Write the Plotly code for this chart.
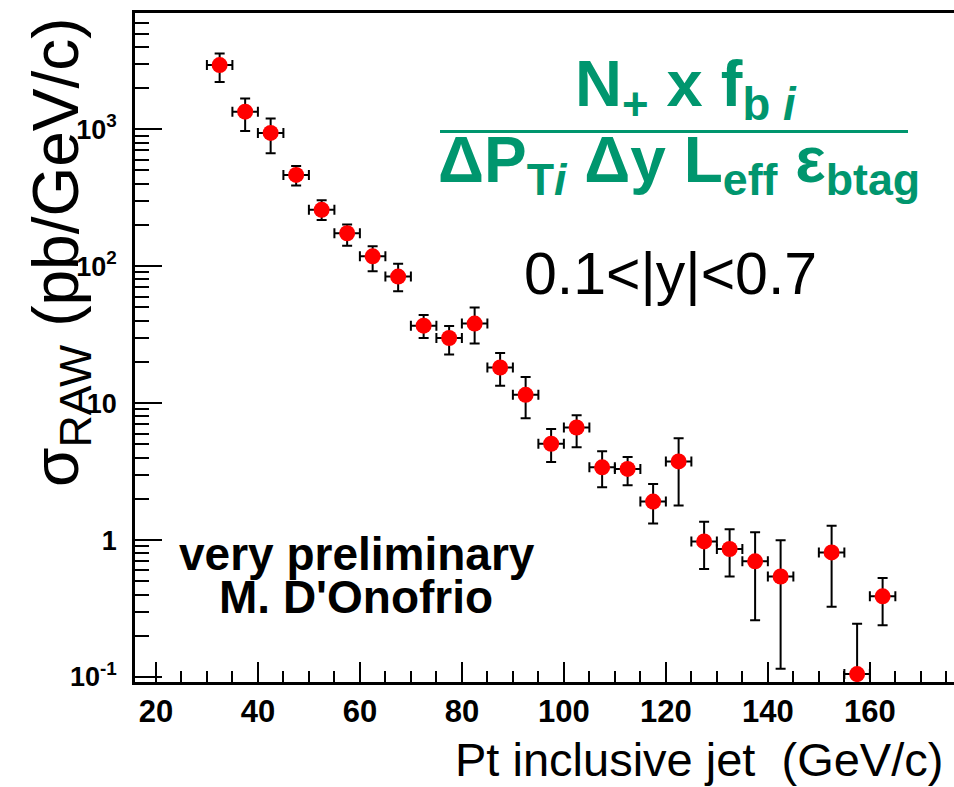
import plotly.graph_objects as go

# ---- data ----
pt = [32.5, 37.5, 42.5, 47.5, 52.5, 57.5, 62.5, 67.5, 72.5, 77.5, 82.5, 87.5, 92.5,
      97.5, 102.5, 107.5, 112.5, 117.5, 122.5, 127.5, 132.5, 137.5, 142.5, 152.5, 157.5, 162.5]
sigma = [2940, 1345, 940, 464, 258, 174, 118, 84, 36.8, 29.9, 38.1, 18.2, 11.5,
         5.05, 6.64, 3.40, 3.31, 1.91, 3.75, 0.978, 0.861, 0.699, 0.542, 0.813, 0.105, 0.388]
sigma_hi = [3575, 1675, 1196, 540, 303, 202, 140, 104, 44, 36.6, 49.9, 23.2, 15.5,
            6.46, 8.17, 4.46, 4.05, 2.57, 5.55, 1.36, 1.20, 1.14, 0.995, 1.27, 0.245, 0.528]
sigma_lo = [2218, 972, 667, 389, 217, 141, 92, 65.6, 29.9, 22.7, 27.2, 13.4, 7.76,
            3.72, 4.77, 2.43, 2.51, 1.32, 1.79, 0.615, 0.542, 0.260, 0.115, 0.326, 0.001, 0.239]
bin_half_width = [2.5] * len(pt)

x_tickvals = [20, 40, 60, 80, 100, 120, 140, 160]
y_tickvals = [0.1, 1, 10, 100, 1000]
y_ticktext = ["10<sup>-1</sup>", "1", "10", "10<sup>2</sup>", "10<sup>3</sup>"]

err_plus = [h - v for h, v in zip(sigma_hi, sigma)]
err_minus = [v - l for v, l in zip(sigma, sigma_lo)]

FONT = "Liberation Sans, Arial, sans-serif"
GREEN = "#00966e"

fig = go.Figure()
fig.add_trace(go.Scatter(
    x=pt, y=sigma, mode="markers",
    marker=dict(color="#ff0000", size=16, line=dict(width=0)),
    error_y=dict(type="data", symmetric=False, array=err_plus, arrayminus=err_minus,
                 color="black", thickness=2, width=5),
    error_x=dict(type="data", array=bin_half_width, color="black", thickness=2, width=5),
    showlegend=False,
))

# plot area pixel geometry helpers (for text placement)
L, R, T, B = 135, 0, 13, 105
W, H = 954, 787
PW, PH = W - L - R, H - T - B
def px(X):
    return (X - L) / PW
def py(Y):
    return (H - B - Y) / PH

ann = []
ann.append(dict(text="<b>N<sub>+</sub> x f<sub>b <i>i</i></sub></b>", x=px(686), y=py(89),
                font=dict(family=FONT, size=65, color=GREEN)))
ann.append(dict(text="<b>ΔP<sub>T<i>i</i></sub> Δy L<sub>eff</sub> ε<sub>btag</sub></b>",
                x=px(679), y=py(164), font=dict(family=FONT, size=64, color=GREEN)))
ann.append(dict(text="0.1<|y|<0.7", x=px(670), y=py(274),
                font=dict(family=FONT, size=59, color="black")))
ann.append(dict(text="<b>very preliminary</b>", x=px(357), y=py(554),
                font=dict(family=FONT, size=46, color="black")))
ann.append(dict(text="<b>M. D'Onofrio</b>", x=px(356), y=py(597),
                font=dict(family=FONT, size=46, color="black")))
ann.append(dict(text="Pt inclusive jet \u00a0(GeV/c)", x=px(945), y=py(760), xanchor="right",
                font=dict(family=FONT, size=47, color="black")))
ann.append(dict(text="σ<sub>RAW</sub> (pb/GeV/c)", x=px(60), y=py(252), textangle=-90,
                font=dict(family=FONT, size=64, color="black")))
for a in ann:
    a.update(xref="paper", yref="paper", showarrow=False)
    a.setdefault("xanchor", "center")
    a.setdefault("yanchor", "middle")

fig.update_layout(
    width=W, height=H,
    margin=dict(l=L, r=R, t=T, b=B, pad=0),
    paper_bgcolor="white", plot_bgcolor="white",
    annotations=ann,
    shapes=[dict(type="line", xref="paper", yref="paper",
                 x0=px(440), x1=px(908), y0=py(131.5), y1=py(131.5),
                 line=dict(color=GREEN, width=3))],
    xaxis=dict(
        range=[15.9, 176.5], showgrid=False, zeroline=False,
        showline=True, linecolor="black", linewidth=2.5, mirror=True,
        ticks="inside", tickmode="array", tickvals=x_tickvals,
        ticklen=20, tickwidth=2, tickcolor="black",
        tickfont=dict(family=FONT, size=31, color="black", weight="bold"),
        minor=dict(tickmode="linear", tick0=0, dtick=5, ticks="inside",
                   ticklen=11, tickwidth=2, tickcolor="black", showgrid=False),
    ),
    yaxis=dict(
        type="log", range=[-1.0365, 3.849], showgrid=False, zeroline=False,
        showline=True, linecolor="black", linewidth=2.5, mirror=False,
        ticks="inside", tickmode="array", tickvals=y_tickvals, ticktext=y_ticktext,
        ticklen=27, tickwidth=2, tickcolor="black", ticklabelstandoff=10,
        tickfont=dict(family=FONT, size=27, color="black", weight="bold"),
        minor=dict(dtick="D1", ticks="inside", ticklen=14, tickwidth=2,
                   tickcolor="black", showgrid=False),
    ),
)

fig.write_html("out.html", config={"displayModeBar": False})

# remove the browser's default 8px page margin so the figure sits at the window's corner
with open("out.html", encoding="utf-8") as f:
    html = f.read()
html = html.replace("</head>", "<style>html,body{margin:0;padding:0;overflow:hidden;}</style></head>", 1)
with open("out.html", "w", encoding="utf-8") as f:
    f.write(html)
